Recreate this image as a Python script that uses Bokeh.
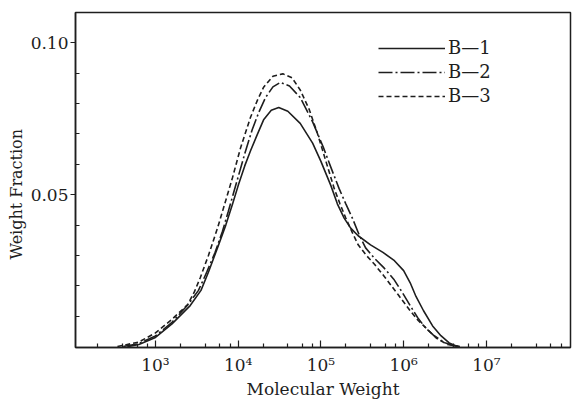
from bokeh.plotting import figure
from bokeh.models import Range1d, FixedTicker, NumeralTickFormatter, Legend, LegendItem, Title
from bokeh.embed import file_html
from bokeh.resources import INLINE

# Molecular weight (x) and weight fraction (y) for each sample
mw_b1 = [457, 631, 1000, 1585, 2630, 3550, 4365, 5620, 7080, 8510, 10000, 12000, 14100,
         17000, 20400, 25100, 30900, 39800, 56200, 79400, 100000, 132000, 158000,
         191000, 229000, 282000, 398000, 562000, 759000, 1000000, 1200000, 1410000,
         1740000, 2240000, 2820000, 3550000, 4470000]
wf_b1 = [0.0, 0.0007, 0.003, 0.0075, 0.0135, 0.0185, 0.0245, 0.0325, 0.040, 0.0468, 0.053, 0.0595, 0.0645,
         0.0698, 0.0748, 0.0778, 0.0787, 0.0775, 0.0735, 0.067, 0.061, 0.053, 0.047,
         0.0423, 0.039, 0.0365, 0.0335, 0.031, 0.0285, 0.025, 0.021, 0.0165,
         0.0118, 0.0068, 0.0036, 0.0012, 0.0]

mw_b2 = [407, 631, 1000, 1585, 2510, 3310, 4170, 5250, 6460, 7590, 9550, 12000, 14800,
         17800, 21400, 26300, 32400, 41700, 56200, 79400, 107000, 132000, 166000,
         200000, 240000, 288000, 347000, 447000, 575000, 759000, 955000, 1200000,
         1480000, 1860000, 2290000, 3020000, 3980000, 4790000]
wf_b2 = [0.0, 0.001, 0.0035, 0.008, 0.014, 0.0185, 0.0245, 0.031, 0.038, 0.0445, 0.054, 0.0635, 0.0715,
         0.0772, 0.082, 0.0855, 0.087, 0.0858, 0.082, 0.074, 0.0656, 0.059, 0.052,
         0.047, 0.0423, 0.037, 0.0325, 0.029, 0.026, 0.0222, 0.018, 0.0135,
         0.0095, 0.006, 0.0038, 0.0015, 0.0003, 0.0]

mw_b3 = [347, 631, 1000, 1585, 2450, 2950, 3470, 4370, 5620, 6460, 8510, 10700, 14100,
         17000, 20400, 26300, 34700, 44700, 56200, 72400, 91200, 115000, 145000,
         170000, 200000, 240000, 282000, 355000, 447000, 603000, 851000, 1200000,
         1510000, 1950000, 2510000, 3390000, 4790000]
wf_b3 = [0.0, 0.0015, 0.0045, 0.009, 0.0138, 0.018, 0.0226, 0.030, 0.039, 0.0445, 0.0555, 0.0655, 0.0755,
         0.081, 0.0855, 0.089, 0.0898, 0.0885, 0.0845, 0.078, 0.070, 0.061, 0.052,
         0.047, 0.0423, 0.0375, 0.0335, 0.030, 0.027, 0.0226, 0.0172, 0.0118,
         0.0085, 0.0056, 0.0027, 0.0007, 0.0]

series_labels = ["B\u20141", "B\u20142", "B\u20143"]

x_major = [1e3, 1e4, 1e5, 1e6, 1e7]
x_minor = [m * 10 ** k for k in range(2, 8) for m in (2, 4, 6, 8)]
x_labels = {1000: "10\u00b3", 10000: "10\u2074", 100000: "10\u2075",
            1000000: "10\u2076", 10000000: "10\u2077"}
y_major = [0.05, 0.10]
y_minor = [0.01, 0.02, 0.03, 0.04, 0.06, 0.07, 0.08, 0.09]

INK = "#1e1e1e"
SERIF = "DejaVu Serif"

p = figure(width=576, height=401, x_axis_type="log", output_backend="svg",
           toolbar_location=None, x_range=Range1d(108, 1.04e8), y_range=Range1d(-0.0003, 0.110),
           min_border_left=75, min_border_right=6, min_border_top=12, min_border_bottom=51)
p.title.visible = False
p.grid.visible = False
p.outline_line_color = INK
p.outline_line_width = 1.5
p.background_fill_color = "white"
p.border_fill_color = "white"

r1 = p.line(mw_b1, wf_b1, line_color=INK, line_width=1.6)
r2 = p.line(mw_b2, wf_b2, line_color=INK, line_width=1.6, line_dash="14 3 2 3")
r3 = p.line(mw_b3, wf_b3, line_color=INK, line_width=1.6, line_dash="5 3")

xa = p.xaxis[0]
xa.ticker = FixedTicker(ticks=x_major, minor_ticks=x_minor)
xa.major_label_overrides = x_labels
xa.major_tick_in = 7
xa.major_tick_out = 0
xa.minor_tick_in = 4
xa.minor_tick_out = 0
xa.major_label_standoff = 7
xa.axis_label = "Molecular Weight"
xa.axis_label_standoff = 1

ya = p.yaxis[0]
ya.ticker = FixedTicker(ticks=y_major, minor_ticks=y_minor)
ya.formatter = NumeralTickFormatter(format="0.00")
ya.major_tick_in = 0
ya.major_tick_out = 5
ya.minor_tick_in = 4
ya.minor_tick_out = 0
ya.major_label_standoff = 2

for ax in (xa, ya):
    ax.axis_line_color = INK
    ax.axis_line_width = 1.5
    ax.major_tick_line_color = INK
    ax.minor_tick_line_color = INK
    ax.major_tick_line_width = 1.2
    ax.minor_tick_line_width = 1.2
    ax.major_label_text_font = SERIF
    ax.major_label_text_font_size = "17px"
    ax.major_label_text_color = INK
    ax.axis_label_text_font = SERIF
    ax.axis_label_text_font_style = "normal"
    ax.axis_label_text_color = INK
xa.axis_label_text_font_size = "17px"

# y-axis title placed as a side title so it can sit lower, as in the original
ytitle = Title(text="Weight Fraction", align="left", offset=88, standoff=4,
               text_font=SERIF, text_font_size="16px", text_font_style="normal",
               text_color=INK)
p.add_layout(ytitle, "left")

legend = Legend(items=[LegendItem(label=series_labels[0], renderers=[r1]),
                       LegendItem(label=series_labels[1], renderers=[r2]),
                       LegendItem(label=series_labels[2], renderers=[r3])],
                location=(303, 241))
legend.border_line_color = None
legend.background_fill_alpha = 0
legend.glyph_width = 67
legend.glyph_height = 20
legend.label_height = 20
legend.spacing = 3
legend.padding = 0
legend.margin = 0
legend.label_standoff = 3
legend.label_text_font = SERIF
legend.label_text_font_size = "18px"
legend.label_text_color = INK
p.add_layout(legend)

open("out.html", "w").write(file_html(p, INLINE))
